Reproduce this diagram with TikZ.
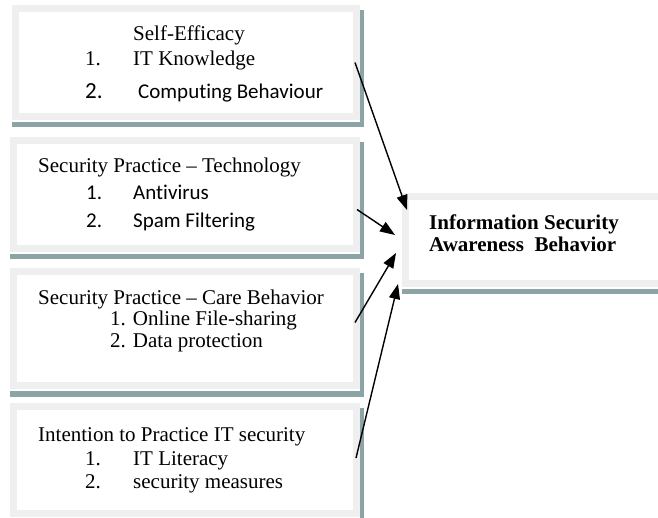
\documentclass[tikz,border=0pt]{standalone}
\usepackage{fontspec}
\setmainfont[Ligatures=NoCommon]{Liberation Serif}
\newfontfamily\calfont[Ligatures=NoCommon]{Carlito}
\usetikzlibrary{arrows.meta,backgrounds}
\definecolor{framegray}{RGB}{239,239,239}
\definecolor{shadowteal}{RGB}{140,164,166}

\begin{document}
\begin{tikzpicture}[x=1pt,y=-1pt,
  panel/.style={draw=framegray, line width=7pt, fill=white, inner sep=0pt, outer sep=3.5pt},
  txt/.style={anchor=base west, inner sep=0pt, font=\fontsize{21}{22}\selectfont},
  caltxt/.style={anchor=base west, inner sep=0pt, font=\fontsize{21}{22}\selectfont\calfont},
  boldtxt/.style={anchor=base west, inner sep=0pt, font=\fontsize{21}{22}\selectfont\bfseries},
  link/.style={line width=1.4pt, -{Triangle[length=15pt,width=11pt]}}]

\useasboundingbox (0,0) rectangle (658,518);

% framed panels
\node[panel, minimum width=341pt, minimum height=108pt] (b1) at (186,62.5) {};
\node[panel, minimum width=343pt, minimum height=108pt] (b2) at (185,194.5) {};
\node[panel, minimum width=343pt, minimum height=114pt] (b3) at (185,328.5) {};
\node[panel, minimum width=343pt, minimum height=107pt] (b4) at (185,460) {};
\node[panel, minimum width=255.5pt, minimum height=87pt] (t) at (533.25,240) {};

% teal shadow bands on the right and bottom of each panel
\begin{scope}[on background layer]
  \foreach \b in {b1,b2,b3,b4,t} {
    \fill[shadowteal] ([yshift=-2pt]\b.south west) rectangle ([xshift=3.5pt,yshift=-7.5pt]\b.south east);
    \fill[shadowteal] ([yshift=-5pt]\b.north east) rectangle ([xshift=3.5pt,yshift=-7.5pt]\b.south east);
  }
\end{scope}

% panel 1
\node[txt] (h1) at (133,41) {Self-Efficacy};
\node[txt] (n11) at (85,66) {1.};
\node[txt] (i11) at (133,66) {IT Knowledge};
\node[caltxt, font=\fontsize{23}{24}\selectfont\calfont] (n12) at (85,99) {2.};
\node[caltxt] (i12) at (138,99) {Computing Behaviour};

% panel 2
\node[txt] (h2) at (38,173) {Security Practice -- Technology};
\node[caltxt] (n21) at (86,200) {1.};
\node[caltxt] (i21) at (133,200) {Antivirus};
\node[caltxt] (n22) at (86,228) {2.};
\node[caltxt] (i22) at (133,228) {Spam Filtering};

% panel 3
\node[txt] (h3) at (38,305) {Security Practice -- Care Behavior};
\node[txt] (i31) at (110,326) {1. Online File-sharing};
\node[txt] (i32) at (110,347) {2. Data protection};

% panel 4
\node[txt] (h4) at (38,441) {Intention to Practice IT security};
\node[txt] (n41) at (85,465) {1.};
\node[txt] (i41) at (133,465) {IT Literacy};
\node[txt] (n42) at (85,488) {2.};
\node[txt] (i42) at (133,488) {security measures};

% target panel
\node[boldtxt] (t1) at (429,230) {Information Security};
\node[boldtxt] (t2) at (429,252) {Awareness\ \ Behavior};

% connectors
\draw[link] ([xshift=-5pt]b1.east) -- ([xshift=5pt,yshift=-17pt]t.north west);
\draw[link] ([xshift=-3pt,yshift=-15pt]b2.east) -- ([xshift=-7pt,yshift=5pt]t.west);
\draw[link] ([xshift=-5pt,yshift=6pt]b3.east) -- ([xshift=-6pt,yshift=-13pt]t.west);
\draw[link] ([xshift=-4pt,yshift=2pt]b4.east) -- ([xshift=-4pt,yshift=-44pt]t.west);
\end{tikzpicture}
\end{document}
